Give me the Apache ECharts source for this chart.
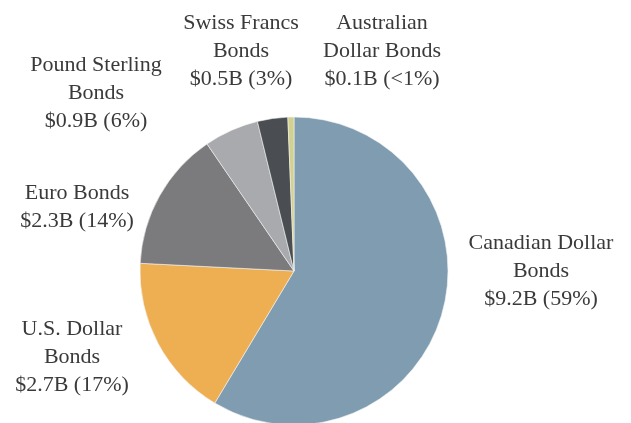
<!DOCTYPE html>
<html lang="en">
  <head>
    <meta charset="UTF-8" />
    <title>Bond holdings by currency</title>
    <script src="https://cdn.jsdelivr.net/npm/echarts@6/dist/echarts.min.js"></script>
    <style>
      * {
        margin: 0;
        padding: 0;
      }
      body {
        background: #fff;
      }
    </style>
  </head>
  <body>
    <div id="main" style="width: 631px; height: 423px"></div>
    <script>
      // data, clockwise from 12 o'clock
      var names = ['Canadian Dollar\nBonds', 'U.S. Dollar\nBonds', 'Euro Bonds', 'Pound Sterling\nBonds', 'Swiss Francs\nBonds', 'Australian\nDollar Bonds'];
      var amounts = [9.2, 2.7, 2.3, 0.9, 0.5, 0.1];
      var shares = ['59%', '17%', '14%', '6%', '3%', '<1%'];

      // styling
      var colors = ['#7f9cb0', '#eeae52', '#7b7b7e', '#a9aaad', '#4a4d52', '#d3d18f'];
      // label block centres (text placement only)
      var labelSpots = [
        [541, 271],
        [72, 357],
        [77, 207],
        [96, 93],
        [241, 51],
        [382, 51]
      ];

      var myChart = echarts.init(document.getElementById('main'));

      var pieData = names.map(function (n, i) {
        return {
          name: n,
          value: amounts[i],
          itemStyle: { color: colors[i] },
          label: {
            formatter: n + '\n$' + amounts[i].toFixed(1) + 'B (' + shares[i] + ')'
          }
        };
      });

      myChart.setOption({
        animation: false,
        series: [
          {
            type: 'pie',
            center: [294, 271],
            radius: 154,
            startAngle: 90,
            clockwise: true,
            itemStyle: {
              borderColor: '#f4f4f4',
              borderWidth: 0.6
            },
            label: {
              show: true,
              position: 'outside',
              overflow: 'none',
              fontFamily: 'Liberation Serif',
              fontSize: 22,
              lineHeight: 28,
              color: '#3a3a3a',
              align: 'center'
            },
            labelLine: { show: false },
            labelLayout: function (params) {
              var p = labelSpots[params.dataIndex];
              return {
                x: p[0],
                y: p[1],
                align: 'center',
                verticalAlign: 'middle'
              };
            },
            data: pieData
          }
        ]
      });
    </script>
  </body>
</html>
